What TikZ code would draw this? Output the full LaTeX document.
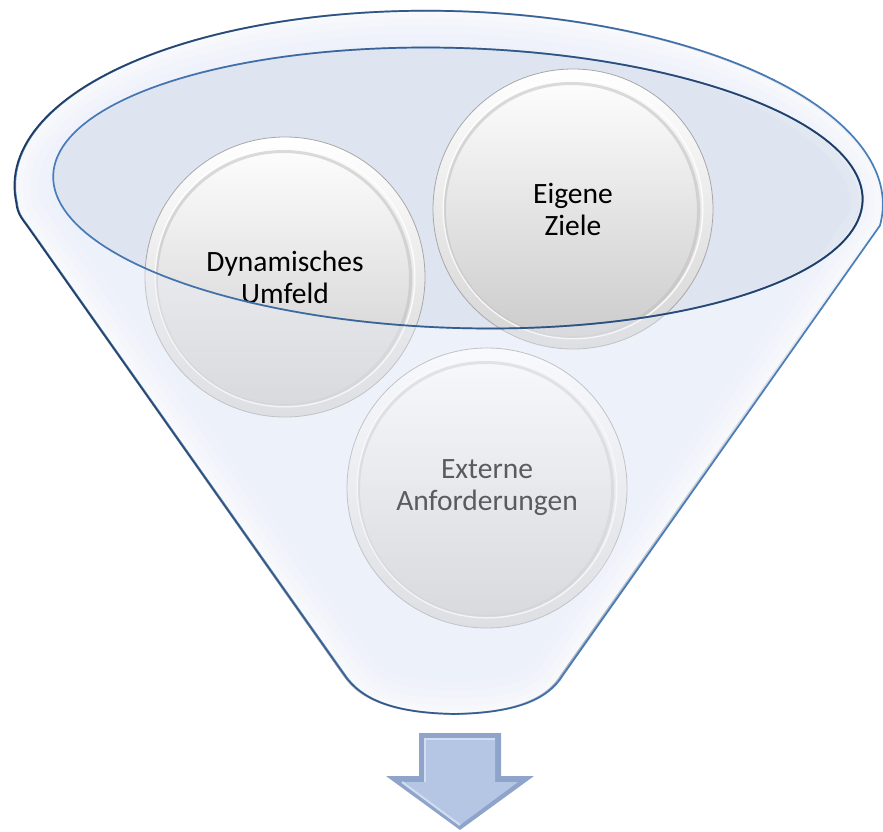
\documentclass[tikz,border=0pt]{standalone}
\usepackage{fontspec}
\setmainfont{Carlito}
\usetikzlibrary{fadings}

\definecolor{bodyfill}{HTML}{EDF1FA}
\definecolor{openfill}{HTML}{DEE5F1}
\definecolor{rimdark}{HTML}{1F3A5F}
\definecolor{rimblue}{HTML}{4A7EBB}
\definecolor{beadedge}{HTML}{A8A8A8}
\definecolor{beadlow}{HTML}{CACACA}
\definecolor{arrowfill}{HTML}{B5C6E5}
\definecolor{arrowdark}{HTML}{8FA4CB}
\definecolor{arrowlight}{HTML}{D3DDF0}

\tikzset{
  beadtext/.style={font=\fontsize{29.5}{32}\selectfont, align=center, text=black},
  bead/.style={
    circle, minimum size=280pt, inner sep=0pt,
    draw=beadedge, line width=0.8pt,
    top color=white, bottom color=beadlow!80,
    beadtext,
    path picture={
      \shade[top color=white, bottom color=beadlow]
        (path picture bounding box.center) circle (128pt);
      \draw[black!25, line width=3pt, opacity=0.55]
        ([xshift=-1.5pt,yshift=-1.5pt]path picture bounding box.center) circle (127pt);
      \draw[white, line width=1.4pt, opacity=0.85]
        (path picture bounding box.center) circle (129.8pt);
    }
  },
  rimline/.style={line width=1.7pt, line join=round}
}

% outer rim of the funnel: upper arc of a slightly tilted ellipse
\def\outerrim{plot[domain=174:366,samples=120]
  ({449+434*cos(\x)*0.99966-184*sin(\x)*0.02618},
   {195+434*cos(\x)*0.02618+184*sin(\x)*0.99966})}
% whole funnel body outline
\def\funnelpath{\outerrim -- (563,675)
  .. controls (548,700) and (515,713) .. (455,714)
  .. controls (395,713) and (362,700) .. (345,675)
  -- (28,226) .. controls (22,218) and (18,213) .. (17,203) -- cycle}
% the opening of the funnel
\def\openingpath{plot[domain=0:360,samples=181]
  ({458+405*cos(\x)*0.99951-140*sin(\x)*0.03141},
   {188+405*cos(\x)*0.03141+140*sin(\x)*0.99951}) -- cycle}

\begin{document}
\begin{tikzpicture}[x=1pt,y=-1pt]
\useasboundingbox[fill=white] (0,0) rectangle (883,832);

% funnel body and opening
\fill[bodyfill] \funnelpath;
\fill[openfill] \openingpath;

% the three items
\node[bead] (dyn) at (285,277) {Dynamisches\\Umfeld};
\node[bead] (ziele) at (573,209) {Eigene\\Ziele};
\node[bead] (ext) at (487,488) {Externe\\Anforderungen};

% translucent front wall of the funnel
\fill[bodyfill, opacity=0.38, even odd rule] \funnelpath \openingpath;

% glossy light along the inside of the outline
\begin{scope}
  \clip \funnelpath;
  \foreach \w/\o in {64/0.12, 46/0.16, 30/0.22, 16/0.3, 6/0.4}
    \draw[white, line width=\w pt, opacity=\o] \funnelpath;
\end{scope}

% outlines
\draw[rimline, rimblue] \openingpath;
\draw[rimline, rimdark, path fading=west] \openingpath;
\draw[rimline, rimblue] \funnelpath;
\draw[rimline, rimdark, path fading=east] \funnelpath;

% downward arrow below the funnel
\coordinate (tip) at (460,830);
\fill[arrowdark] (419,733) -- (501,733) -- (501,776) -- (534,776) -- (tip)
  -- (386,776) -- (419,776) -- cycle;
\fill[arrowfill] (425,739) -- (495,739) -- (495,782) -- (518,782) -- (460,825)
  -- (402,782) -- (425,782) -- cycle;
\draw[arrowlight, line width=2pt] (425,782) -- (425,739) -- (495,739);
\draw[arrowlight, line width=2pt] (402,782) -- (460,825);
\end{tikzpicture}
\end{document}
